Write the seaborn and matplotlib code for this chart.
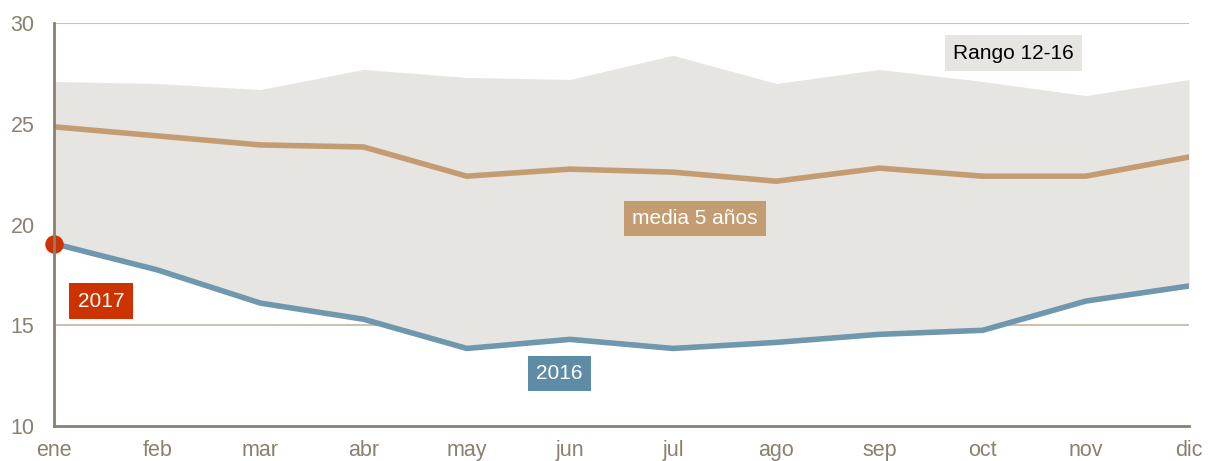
import numpy as np
import matplotlib.pyplot as plt
import seaborn as sns
import pandas as pd

meses = ['ene', 'feb', 'mar', 'abr', 'may', 'jun', 'jul', 'ago', 'sep', 'oct', 'nov', 'dic']
rango_max = [27.1, 27.0, 26.7, 27.7, 27.3, 27.2, 28.4, 27.0, 27.7, 27.1, 26.4, 27.2]
media_5 = [24.85, 24.4, 23.95, 23.85, 22.4, 22.75, 22.6, 22.15, 22.8, 22.4, 22.4, 23.35]
serie_2016 = [19.05, 17.75, 16.1, 15.3, 13.85, 14.3, 13.85, 14.15, 14.55, 14.75, 16.2, 16.95]
serie_2017 = [19.05]

sns.set_theme(style='white')
plt.rcParams['font.family'] = ['Liberation Sans', 'DejaVu Sans']

axis_col = '#8a8070'
grid_col = '#c9c3b5'
band_col = '#e6e5e1'
media_col = '#c49c72'
col_2016 = '#6f97ad'
col_2017 = '#cc3300'

df = pd.DataFrame({'x': np.arange(12), 'media': media_5, 's2016': serie_2016, 'top': rango_max})

fig = plt.figure(figsize=(12.17, 4.61), dpi=100)
ax = fig.add_axes([0.0444, 0.0759, 0.9326, 0.8741])

for y in [15, 20, 25, 30]:
    ax.axhline(y, color=grid_col, lw=1.5, zorder=0)

ax.fill_between(df['x'], df['s2016'], df['top'], color=band_col, lw=0, zorder=1)
sns.lineplot(data=df, x='x', y='media', color=media_col, lw=4, ax=ax, zorder=3)
sns.lineplot(data=df, x='x', y='s2016', color=col_2016, lw=4, ax=ax, zorder=3)
ax.scatter([0], serie_2017, s=150, color=col_2017, zorder=5, clip_on=False)

ax.set_xlim(0, 11)
ax.set_ylim(10, 30)
ax.set_xticks(range(12))
ax.set_xticklabels(meses)
ax.set_yticks([10, 15, 20, 25, 30])
ax.set_xlabel('')
ax.set_ylabel('')
ax.tick_params(axis='both', length=0, labelsize=15.5, colors=axis_col)
ax.tick_params(axis='x', pad=10)
ax.tick_params(axis='y', pad=14)

for s in ['top', 'right']:
    ax.spines[s].set_visible(False)
for s in ['left', 'bottom']:
    ax.spines[s].set_color(axis_col)
    ax.spines[s].set_linewidth(2)
    ax.spines[s].set_zorder(6)

def etiqueta(x, y, texto, fondo, color='white'):
    ax.text(x, y, texto, ha='center', va='center', fontsize=15, color=color, zorder=7,
            bbox=dict(boxstyle='square,pad=0.4', fc=fondo, ec='none'))

etiqueta(9.3, 28.5, 'Rango 12-16', band_col, color='black')
etiqueta(6.21, 20.3, 'media 5 años', media_col)
etiqueta(4.9, 12.6, '2016', '#5e8ca6')
etiqueta(0.455, 16.2, '2017', col_2017)

fig.savefig('out.png', dpi=100)
